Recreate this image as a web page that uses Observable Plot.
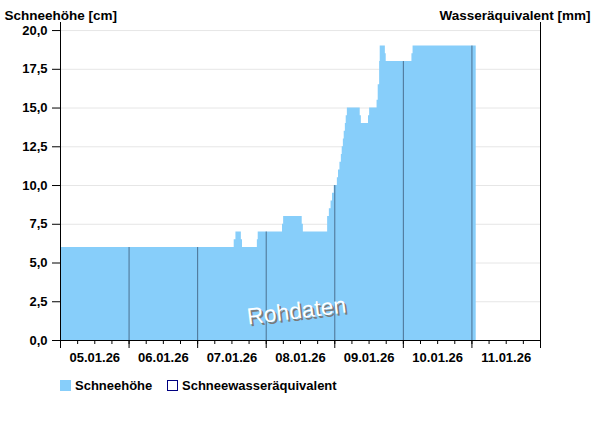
<!DOCTYPE html>
<html>
<head>
<meta charset="utf-8">
<script src="https://cdn.jsdelivr.net/npm/d3@7"></script>
<script src="https://cdn.jsdelivr.net/npm/@observablehq/plot@0.6"></script>
<style>
  html, body { margin: 0; padding: 0; background: #fff; }
  body { width: 600px; height: 426px; overflow: hidden; font-family: "Liberation Sans", Arial, sans-serif; }
  #legend { position: relative; height: 56px; font-weight: bold; font-size: 13px; color: #000; }
  .sw { position: absolute; top: 10px; width: 11px; height: 11px; box-sizing: border-box; }
  .lt { position: absolute; top: 8px; line-height: 15px; }
</style>
</head>
<body>
<div id="chart"></div>
<div id="legend">
  <div class="sw" style="left:60px;background:#87cefa;"></div>
  <div class="lt" style="left:75px;">Schneehöhe</div>
  <div class="sw" style="left:167px;border:1px solid #000080;background:#fff;"></div>
  <div class="lt" style="left:182px;">Schneewasseräquivalent</div>
</div>
<script>
// Snow height change points: hours since 05.01.26 00:00, value in cm (step series)
const hours = [0, 60.8, 61.4, 63.3, 63.7, 68.9, 69.2, 77.7, 78.1, 84.6, 85.0,
  93.5, 94.1, 94.7, 95.2, 95.8, 96.9, 97.3, 97.8, 98.3, 98.6, 99.0, 99.3, 99.7, 100.0, 100.4,
  104.9, 105.3, 107.8, 108.2, 110.8, 111.2, 111.7, 111.9, 113.7, 114.0, 123.0, 123.4, 145.5];
const snowCm = [6, 6.5, 7, 6.5, 6, 6.5, 7, 7.5, 8, 7.5, 7,
  8, 8.5, 9, 9.5, 10, 10.5, 11, 11.5, 12, 12.5, 13, 13.5, 14, 14.5, 15,
  14.5, 14, 14.5, 15, 15.5, 16.5, 18, 19, 18.5, 18, 18.5, 19, 19];
const dayLabels = ["05.01.26", "06.01.26", "07.01.26", "08.01.26", "09.01.26", "10.01.26", "11.01.26"];
const yTicks = [0, 2.5, 5, 7.5, 10, 12.5, 15, 17.5, 20];

const base = Date.UTC(2026, 0, 5);
const H = 3600e3;
const toDate = h => new Date(base + h * H);
const data = hours.map((h, i) => ({t: toDate(h), v: snowCm[i]}));

const dayStarts = d3.range(0, 8).map(d => toDate(d * 24));
const sixHours = d3.range(0, 7 * 4 + 1).map(k => toDate(k * 6));
const noons = dayLabels.map((l, i) => ({t: toDate(i * 24 + 12), l}));

// vertical day lines inside the fill, height = value at midnight
const lastHour = hours[hours.length - 1];
const valueAt = h => { let v = null; hours.forEach((hh, i) => { if (hh <= h) v = snowCm[i]; }); return v; };
const dayLines = d3.range(1, 7).filter(d => d * 24 <= lastHour).map(d => ({t: toDate(d * 24), v: valueAt(d * 24)}));

const fmtY = d => d.toFixed(1).replace(".", ",");

const chart = Plot.plot({
  width: 600,
  height: 370,
  marginLeft: 60,
  marginRight: 60,
  marginTop: 22,
  marginBottom: 30,
  style: {fontFamily: "'Liberation Sans', Arial, sans-serif", fontSize: "13px", fontWeight: "bold", color: "#000", background: "#fff"},
  x: {type: "utc", domain: [toDate(0), toDate(168)]},
  y: {domain: [0, 20.52]},
  marks: [
    Plot.gridY(yTicks, {stroke: "#e6e6e6", strokeOpacity: 1}),
    Plot.areaY(data, {x: "t", y: "v", curve: "step-after", fill: "#87cefa"}),
    Plot.ruleX(dayLines, {x: "t", y1: 0, y2: "v", stroke: "#4a7090", strokeWidth: 1}),
    Plot.ruleX([toDate(0), toDate(168)], {stroke: "#000"}),
    Plot.ruleY([0], {stroke: "#000"}),
    Plot.axisY({ticks: yTicks, tickSize: 8, tickPadding: 5, tickFormat: fmtY, label: null, fontWeight: "bold"}),
    Plot.axisX({ticks: dayStarts, tickSize: 8, tickFormat: () => "", label: null}),
    Plot.axisX({ticks: sixHours, tickSize: 4, tickFormat: () => "", label: null}),
    Plot.text(noons, {x: "t", frameAnchor: "bottom", text: "l", dy: 17, fontWeight: "bold", lineAnchor: "middle"}),
    Plot.text(["Schneehöhe [cm]"], {frameAnchor: "top-left", dx: -56, dy: -12, textAnchor: "start", fontWeight: "bold", fontSize: 13.5}),
    Plot.text(["Wasseräquivalent [mm]"], {frameAnchor: "top-right", dx: 50, dy: -12, textAnchor: "end", fontWeight: "bold", fontSize: 13.5}),
    Plot.text(["Rohdaten"], {frameAnchor: "bottom", dx: -1, dy: -20, rotate: -7, fontSize: 23, fontWeight: "normal", fill: "#7a7a7a"}),
    Plot.text(["Rohdaten"], {frameAnchor: "bottom", dx: -3, dy: -22, rotate: -7, fontSize: 23, fontWeight: "normal", fill: "#fff"})
  ]
});
document.getElementById("chart").appendChild(chart);
</script>
</body>
</html>
